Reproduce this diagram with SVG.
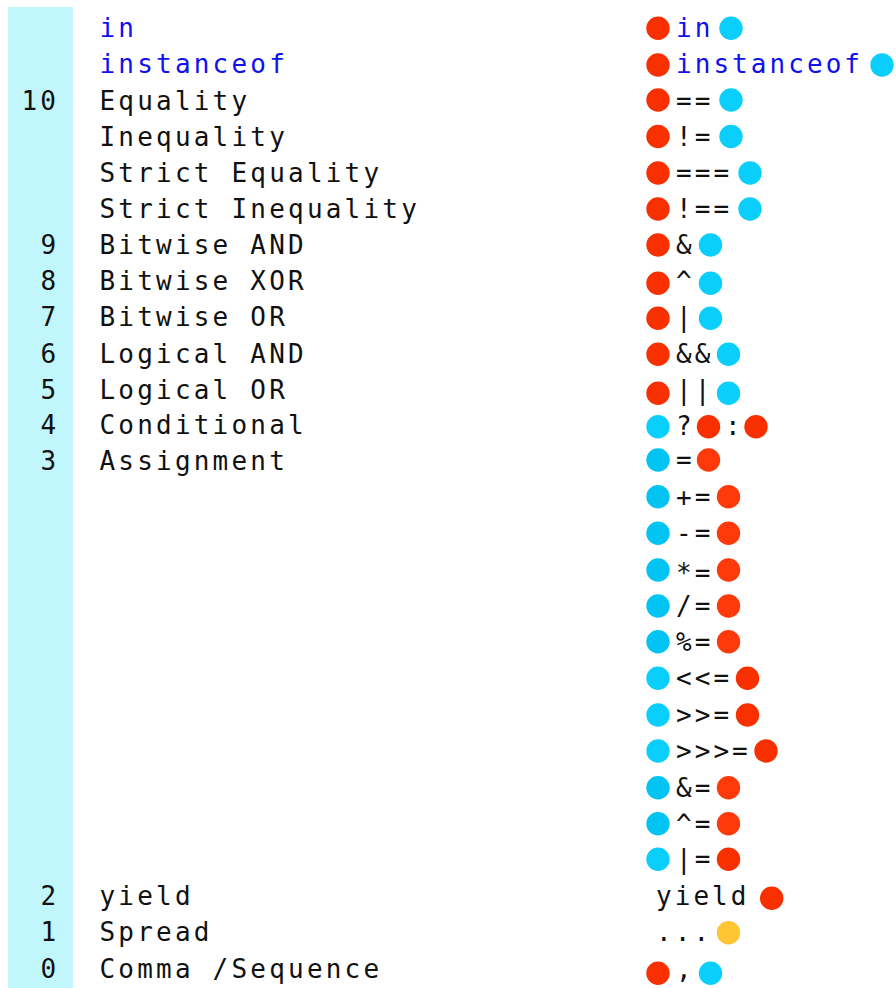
<svg xmlns="http://www.w3.org/2000/svg" width="896" height="988" viewBox="0 0 896 988">
<style>
text{font-family:"DejaVu Sans Mono","Liberation Mono",monospace;font-size:26px;fill:#111}
.l{letter-spacing:3.2px}
.o{letter-spacing:3.05px}
.b{fill:#1010F0}
.r{fill:#F83000}
.r2{fill:#FF3A0A}
.c{fill:#0ACFFC}
.c2{fill:#02C4F2}
.y{fill:#FFC532}
</style>
<rect id="band" x="8" y="7" width="65" height="981" fill="#C0F6FC"/>
<g id="row0"><text class="l b" x="99.5" y="37">in</text><circle class="r" cx="658" cy="28.3" r="11.7"/><text class="o b" x="676" y="37">in</text><circle class="c" cx="731" cy="28.3" r="11.7"/></g>
<g id="row1"><text class="l b" x="99.5" y="73">instanceof</text><circle class="r" cx="658" cy="65" r="11.7"/><text class="o b" x="676" y="73">instanceof</text><circle class="c" cx="882" cy="65" r="11.7"/></g>
<g id="row2"><text class="l" x="21.5" y="109.5">10</text><text class="l" x="99.5" y="109.5">Equality</text><circle class="r" cx="658" cy="100" r="11.7"/><text class="o" x="676" y="109.5">==</text><circle class="c" cx="731" cy="100" r="11.7"/></g>
<g id="row3"><text class="l" x="99.5" y="145.7">Inequality</text><circle class="r" cx="658" cy="136.5" r="11.7"/><text class="o" x="676" y="145.7">!=</text><circle class="c" cx="731" cy="136.5" r="11.7"/></g>
<g id="row4"><text class="l" x="99.5" y="181.9">Strict Equality</text><circle class="r" cx="658" cy="173" r="11.7"/><text class="o" x="676" y="181.9">===</text><circle class="c" cx="750" cy="173" r="11.7"/></g>
<g id="row5"><text class="l" x="99.5" y="218">Strict Inequality</text><circle class="r" cx="658" cy="209" r="11.7"/><text class="o" x="676" y="218">!==</text><circle class="c" cx="750" cy="209" r="11.7"/></g>
<g id="row6"><text class="l" x="40.5" y="254">9</text><text class="l" x="99.5" y="254">Bitwise AND</text><circle class="r" cx="658" cy="245" r="11.7"/><text class="o" x="676" y="254">&amp;</text><circle class="c" cx="710.5" cy="245" r="11.7"/></g>
<g id="row7"><text class="l" x="40.5" y="290">8</text><text class="l" x="99.5" y="290">Bitwise XOR</text><circle class="r" cx="658" cy="283.3" r="11.7"/><text class="o" x="676" y="290">^</text><circle class="c" cx="710.5" cy="283.3" r="11.7"/></g>
<g id="row8"><text class="l" x="40.5" y="326">7</text><text class="l" x="99.5" y="326">Bitwise OR</text><circle class="r" cx="658" cy="318.3" r="11.7"/><text class="o" x="676" y="326">|</text><circle class="c" cx="710.5" cy="318.3" r="11.7"/></g>
<g id="row9"><text class="l" x="40.5" y="362.5">6</text><text class="l" x="99.5" y="362.5">Logical AND</text><circle class="r" cx="658" cy="354.3" r="11.7"/><text class="o" x="676" y="362.5">&amp;&amp;</text><circle class="c" cx="728.5" cy="354.3" r="11.7"/></g>
<g id="row10"><text class="l" x="40.5" y="398.5">5</text><text class="l" x="99.5" y="398.5">Logical OR</text><circle class="r" cx="658" cy="393.3" r="11.7"/><text class="o" x="676" y="398.5">||</text><circle class="c" cx="728.5" cy="393.3" r="11.7"/></g>
<g id="row11"><text class="l" x="40.5" y="433.5">4</text><text class="l" x="99.5" y="433.5">Conditional</text><circle class="c" cx="658" cy="426.7" r="11.7"/><text class="o" x="676" y="435">?</text><circle class="r" cx="708.5" cy="426.7" r="11.7"/><text class="o" x="725" y="435">:</text><circle class="r" cx="756" cy="426.7" r="11.7"/></g>
<g id="row12"><text class="l" x="40.5" y="470">3</text><text class="l" x="99.5" y="470">Assignment</text><circle class="c2" cx="658" cy="460" r="11.7"/><text class="o" x="676" y="469">=</text><circle class="r2" cx="708.5" cy="460" r="11.7"/></g>
<g id="row13"><circle class="c2" cx="658" cy="496.7" r="11.7"/><text class="o" x="676" y="505.5">+=</text><circle class="r2" cx="728.5" cy="496.7" r="11.7"/></g>
<g id="row14"><circle class="c2" cx="658" cy="533.3" r="11.7"/><text class="o" x="676" y="542">-=</text><circle class="r2" cx="728.5" cy="533.3" r="11.7"/></g>
<g id="row15"><circle class="c2" cx="658" cy="570" r="11.7"/><text class="o" x="676" y="582">*=</text><circle class="r2" cx="728.5" cy="570" r="11.7"/></g>
<g id="row16"><circle class="c2" cx="658" cy="606" r="11.7"/><text class="o" x="676" y="614.5">/=</text><circle class="r2" cx="728.5" cy="606" r="11.7"/></g>
<g id="row17"><circle class="c2" cx="658" cy="641.7" r="11.7"/><text class="o" x="676" y="650.5">%=</text><circle class="r2" cx="728.5" cy="641.7" r="11.7"/></g>
<g id="row18"><circle class="c" cx="658" cy="678.3" r="11.7"/><text class="o" x="676" y="687">&lt;&lt;=</text><circle class="r" cx="747.5" cy="678.3" r="11.7"/></g>
<g id="row19"><circle class="c" cx="658" cy="715" r="11.7"/><text class="o" x="676" y="723.5">&gt;&gt;=</text><circle class="r" cx="747.5" cy="715" r="11.7"/></g>
<g id="row20"><circle class="c" cx="658" cy="751" r="11.7"/><text class="o" x="676" y="759.5">&gt;&gt;&gt;=</text><circle class="r" cx="766" cy="751" r="11.7"/></g>
<g id="row21"><circle class="c2" cx="658" cy="787.7" r="11.7"/><text class="o" x="676" y="796.5">&amp;=</text><circle class="r2" cx="728.5" cy="787.7" r="11.7"/></g>
<g id="row22"><circle class="c2" cx="658" cy="823.7" r="11.7"/><text class="o" x="676" y="832.5">^=</text><circle class="r2" cx="728.5" cy="823.7" r="11.7"/></g>
<g id="row23"><circle class="c" cx="658" cy="859.3" r="11.7"/><text class="o" x="676" y="868">|=</text><circle class="r" cx="728.5" cy="859.3" r="11.7"/></g>
<g id="row24"><text class="l" x="40.5" y="904.5">2</text><text class="l" x="99.5" y="904.5">yield</text><text class="o" x="656" y="904.5">yield</text><circle class="r" cx="771.7" cy="898.3" r="11.7"/></g>
<g id="row25"><text class="l" x="40.5" y="941">1</text><text class="l" x="99.5" y="941">Spread</text><text class="o" x="656" y="941">...</text><circle class="y" cx="728.5" cy="932.7" r="11.7"/></g>
<g id="row26"><text class="l" x="40.5" y="977.5">0</text><text class="l" x="99.5" y="977.5">Comma /Sequence</text><circle class="r" cx="658" cy="973.3" r="11.7"/><text class="o" x="676" y="977.5">,</text><circle class="c" cx="710.5" cy="973.3" r="11.7"/></g>
</svg>
